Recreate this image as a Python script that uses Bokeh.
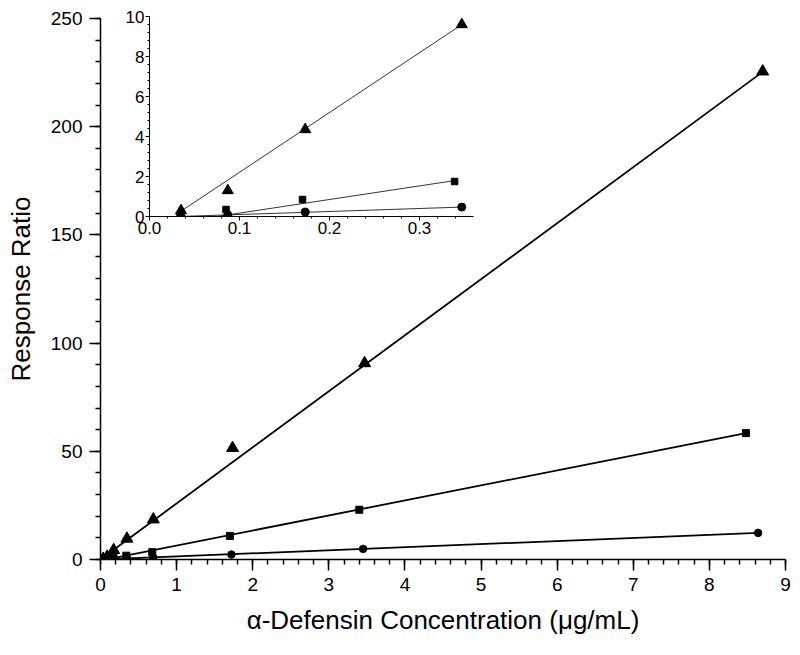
import numpy as np
from bokeh.plotting import figure
from bokeh.layouts import column
from bokeh.models import Range1d, SingleIntervalTicker, PrintfTickFormatter
from bokeh.embed import file_html
from bokeh.resources import INLINE

# ---- data ----
tri_x = [0.035, 0.087, 0.173, 0.347, 0.694, 1.735, 3.47, 8.70]
tri_y = [0.3, 1.3, 4.35, 9.6, 18.5, 51.5, 90.7, 225.5]
sq_x = [0.034, 0.085, 0.170, 0.339, 0.68, 1.70, 3.40, 8.48]
sq_y = [0.05, 0.35, 0.85, 1.75, 3.4, 10.9, 23.0, 58.4]
ci_x = [0.035, 0.087, 0.173, 0.347, 0.694, 1.72, 3.45, 8.64]
ci_y = [0.03, 0.08, 0.22, 0.47, 0.9, 2.3, 4.9, 12.3]

# calibration fits (slope, intercept) - full range
main_fit = {"tri": (25.9, 0.0), "sq": (6.95, -0.5), "ci": (1.42, 0.0)}
# calibration fits - low range (inset, first four points)
inset_fit = {"tri": (29.9, -0.78), "sq": (6.8, -0.51), "ci": (1.5, -0.05)}
n_inset = 4

x_title = "\u03b1-Defensin Concentration (\u03bcg/mL)"
y_title = "Response Ratio"

FONT = "Liberation Sans"


def fit_line(xs, fit):
    lx = np.array([min(xs), max(xs)])
    return lx, fit[0] * lx + fit[1]


def style_axes(fig, tick_size, tick_out, minor_out, lw, standoff):
    fig.grid.visible = False
    fig.outline_line_color = None
    fig.background_fill_alpha = 0
    fig.border_fill_alpha = 0
    for ax in (fig.xaxis, fig.yaxis):
        ax.axis_line_color = "black"
        ax.axis_line_width = lw
        ax.major_tick_in = 0
        ax.major_tick_out = tick_out
        ax.minor_tick_in = 0
        ax.minor_tick_out = minor_out
        ax.major_tick_line_width = lw
        ax.minor_tick_line_width = lw
        ax.major_tick_line_color = "black"
        ax.minor_tick_line_color = "black"
        ax.major_label_text_font = FONT
        ax.major_label_text_font_size = tick_size
        ax.major_label_text_color = "black"
        ax.major_label_standoff = standoff


# ---- main plot ----
p = figure(width=792, height=647, x_range=Range1d(0, 9), y_range=Range1d(0, 250),
           output_backend="svg", toolbar_location=None,
           min_border_left=100, min_border_right=7, min_border_top=18, min_border_bottom=88,
           margin=(-246, 0, 0, 0))
style_axes(p, "19px", 11, 5, 1.5, 7)
p.xaxis.ticker = SingleIntervalTicker(interval=1, num_minor_ticks=5)
p.yaxis.ticker = SingleIntervalTicker(interval=50, num_minor_ticks=5)
p.xaxis.axis_label = x_title
p.yaxis.axis_label = y_title
for ax in (p.xaxis, p.yaxis):
    ax.axis_label_text_font = FONT
    ax.axis_label_text_font_size = "26px"
    ax.axis_label_text_font_style = "normal"
    ax.axis_label_text_color = "black"
p.xaxis.axis_label_standoff = 11
p.yaxis.axis_label_standoff = 12

for key, xs in (("tri", tri_x), ("sq", sq_x), ("ci", ci_x)):
    lx, ly = fit_line(xs, main_fit[key])
    p.line(lx, ly, line_color="black", line_width=1.8)
p.scatter(tri_x, tri_y, marker="triangle", size=12, color="black")
p.scatter(sq_x, sq_y, marker="square", size=7, color="black")
p.scatter(ci_x, ci_y, marker="circle", size=7.5, color="black")

# ---- inset ----
ins = figure(width=431, height=246, x_range=Range1d(0, 0.36), y_range=Range1d(0, 10),
             output_backend="svg", toolbar_location=None,
             min_border_left=41, min_border_right=7, min_border_top=16, min_border_bottom=30,
             margin=(0, 0, 0, 49))
style_axes(ins, "17px", 4, 2, 1, 1)
ins.xaxis.ticker = SingleIntervalTicker(interval=0.1, num_minor_ticks=5)
ins.yaxis.ticker = SingleIntervalTicker(interval=2, num_minor_ticks=5)
ins.xaxis.formatter = PrintfTickFormatter(format="%.1f")

for key, xs in (("tri", tri_x), ("sq", sq_x), ("ci", ci_x)):
    lx, ly = fit_line(xs[:n_inset], inset_fit[key])
    ins.line(lx, ly, line_color="black", line_width=0.8)
ins.scatter(tri_x[:n_inset], tri_y[:n_inset], marker="triangle", size=11, color="black")
ins.scatter(sq_x[:n_inset], sq_y[:n_inset], marker="square", size=6.5, color="black")
ins.scatter(ci_x[:n_inset], ci_y[:n_inset], marker="circle", size=8, color="black")

layout = column(ins, p)
open("out.html", "w").write(file_html(layout, INLINE))
